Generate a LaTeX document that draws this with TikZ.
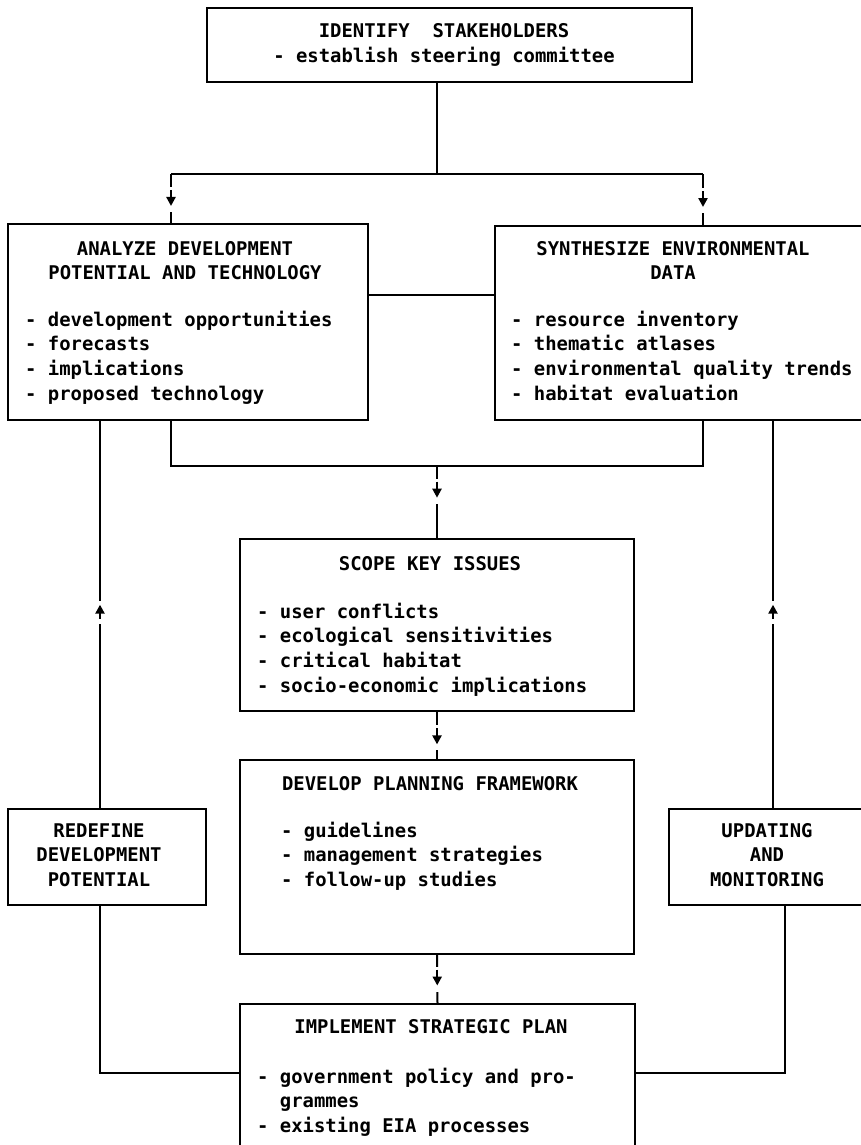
\documentclass[tikz,border=0pt]{standalone}
\usepackage{fontspec}
\newfontfamily\dmono{DejaVu Sans Mono}
\usetikzlibrary{arrows.meta,calc}
\newcommand{\ctrlines}[1]{\begin{tabular}[t]{@{}c@{}}#1\end{tabular}}
\newcommand{\leftlines}[1]{\begin{tabular}[t]{@{}l@{}}#1\end{tabular}}
\begin{document}
\begin{tikzpicture}[x=1pt,y=-1pt,
  box/.style={draw, line width=2pt, inner sep=0pt, anchor=north west},
  conn/.style={line width=2pt},
  txt/.style={inner sep=0pt, font=\dmono\bfseries\fontsize{18.9}{24.7}\selectfont},
  arrdown/.style={fill=white, inner sep=0pt, minimum width=14pt, minimum height=25pt,
    path picture={\draw[line width=2.4pt,-{Triangle[length=9pt,width=9pt]}]
      ([yshift=-3pt]path picture bounding box.north) -- ([yshift=6pt]path picture bounding box.south);}},
  arrup/.style={fill=white, inner sep=0pt, minimum width=14pt, minimum height=23pt,
    path picture={\draw[line width=2.4pt,-{Triangle[length=9pt,width=9pt]}]
      ([yshift=5pt]path picture bounding box.south) -- ([yshift=-4pt]path picture bounding box.north);}}
]
\fill[white] (0,0) rectangle (861,1145);
\useasboundingbox (0,0) rectangle (861,1145);
\clip (0,0) rectangle (861,1145);

% boxes
\node[box, minimum width=485pt, minimum height=74pt] (stake) at (206,7) {};
\node[box, minimum width=360pt, minimum height=196pt] (analyze) at (7,223) {};
\node[box, minimum width=376pt, minimum height=194pt] (synth) at (494,225) {};
\node[box, minimum width=394pt, minimum height=172pt] (scope) at (239,538) {};
\node[box, minimum width=394pt, minimum height=194pt] (develop) at (239,759) {};
\node[box, minimum width=198pt, minimum height=96pt] (redefine) at (7,808) {};
\node[box, minimum width=202pt, minimum height=96pt] (updating) at (668,808) {};
\node[box, minimum width=395pt, minimum height=170pt] (implement) at (239,1003) {};

% junction coordinates
\coordinate (jt) at (437,174);
\coordinate (jl) at (171,174);
\coordinate (jr) at (703,174);
\coordinate (jb) at (437,466);
\coordinate (lk) at (0,295);
\coordinate (fb) at (0,1073);
\coordinate (fl) at (100,0);
\coordinate (fr) at (773,0);
\coordinate (fr2) at (785,0);

% connectors
\draw[conn] (stake.south -| jt) -- (jt);
\draw[conn] (jl) -- (jr);
\draw[conn] (jl) -- node[arrdown,pos=.52] (m1) {} (jl |- analyze.north);
\draw[conn] (jr) -- node[arrdown,pos=.52] (m2) {} (jr |- synth.north);
\draw[conn] (analyze.east |- lk) -- (synth.west |- lk);
\draw[conn] (analyze.south -| jl) -- (jl |- jb) -- (jr |- jb) -- (synth.south -| jr);
\draw[conn] (scope.north |- jb) -- node[arrdown,pos=.35] (m3) {} (scope.north);
\draw[conn] (scope.south) -- node[arrdown,pos=.55] (m4) {} (develop.north);
\draw[conn] (develop.south) -- node[arrdown,pos=.5] (m5) {} (implement.north);
\draw[conn] (redefine.north -| fl) -- node[arrup,pos=.506] (m6) {} (analyze.south -| fl);
\draw[conn] (updating.north -| fr) -- node[arrup,pos=.506] (m7) {} (synth.south -| fr);
\draw[conn] (redefine.south -| fl) -- (fl |- fb) -- (implement.west |- fb);
\draw[conn] (updating.south -| fr2) -- (fr2 |- fb) -- (implement.east |- fb);

% texts
\node[txt, anchor=base] (t1) at (444,38) {\ctrlines{IDENTIFY\ \ STAKEHOLDERS\\- establish steering committee}};
\node[txt, anchor=base] (t2) at (185,255) {\ctrlines{ANALYZE DEVELOPMENT\\POTENTIAL AND TECHNOLOGY}};
\node[txt, anchor=base west] (t3) at (25,326) {\leftlines{- development opportunities\\- forecasts\\- implications\\- proposed technology}};
\node[txt, anchor=base] (t4) at (673,255) {\ctrlines{SYNTHESIZE ENVIRONMENTAL\\DATA}};
\node[txt, anchor=base west] (t5) at (511,326) {\leftlines{- resource inventory\\- thematic atlases\\- environmental quality trends\\- habitat evaluation}};
\node[txt, anchor=base] (t6) at (430,570) {SCOPE KEY ISSUES};
\node[txt, anchor=base west] (t7) at (257,618) {\leftlines{- user conflicts\\- ecological sensitivities\\- critical habitat\\- socio-economic implications}};
\node[txt, anchor=base] (t8) at (430,790) {DEVELOP PLANNING FRAMEWORK};
\node[txt, anchor=base west] (t9) at (281,837) {\leftlines{- guidelines\\- management strategies\\- follow-up studies}};
\node[txt, anchor=base] (t10) at (99,837) {\ctrlines{REDEFINE\\DEVELOPMENT\\POTENTIAL}};
\node[txt, anchor=base] (t11) at (767,837) {\ctrlines{UPDATING\\AND\\MONITORING}};
\node[txt, anchor=base] (t12) at (431,1033) {IMPLEMENT STRATEGIC PLAN};
\node[txt, anchor=base west] (t13) at (257,1083) {\leftlines{- government policy and pro-\\\hphantom{- }grammes\\- existing EIA processes}};
\end{tikzpicture}
\end{document}
